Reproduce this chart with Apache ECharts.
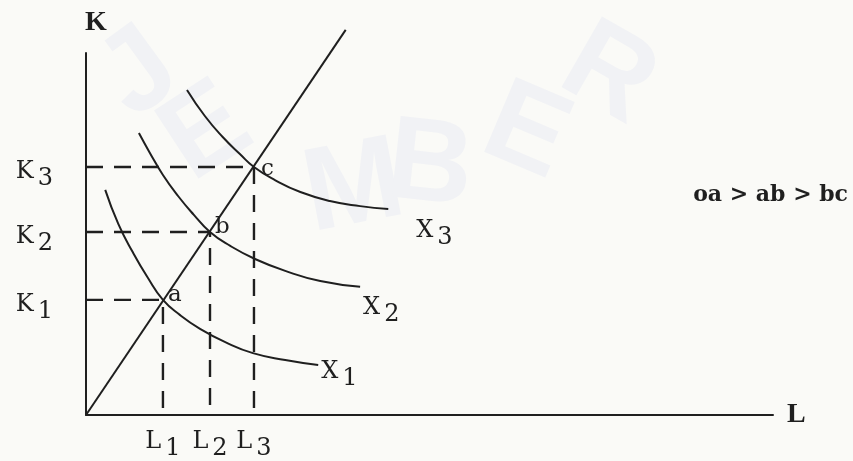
<!DOCTYPE html>
<html>
<head>
<meta charset="utf-8">
<script src="https://cdn.jsdelivr.net/npm/echarts@6/dist/echarts.min.js"></script>
<style>
  html, body { margin: 0; padding: 0; background: #fafaf7; }
  #chart { width: 853px; height: 461px; }
</style>
</head>
<body>
<div id="chart"></div>
<script>
// Input levels at the three equilibrium points a, b, c
const laborLevels = [11.2, 18.05, 24.45];    // L1, L2, L3
const capitalLevels = [31.8, 50.55, 68.5];   // K1, K2, K3
const pointNames = ['a', 'b', 'c'];
const laborTicks = ['1', '2', '3'];
const capitalTicks = ['1', '2', '3'];

// Expansion path through the origin
const expansionPath = [[0, 0], [37.8, 106.4]];

// Isoquants X1, X2, X3
const isoquantX1 = [[2.8, 62.2], [4.7, 52.8], [6.8, 45.0], [9.0, 37.9], [11.2, 31.8],
                    [13.7, 27.6], [16.6, 23.8], [20.2, 20.2], [24.3, 17.1], [29.0, 15.2],
                    [33.8, 13.8]];
const isoquantX2 = [[7.7, 77.9], [9.3, 72.4], [11.2, 66.3], [13.4, 60.5], [15.7, 55.3],
                    [18.05, 50.55], [21.0, 46.7], [24.6, 43.1], [29.0, 39.8], [34.1, 37.0],
                    [39.9, 35.4]];
const isoquantX3 = [[14.7, 89.8], [17.3, 82.6], [19.9, 76.8], [22.4, 72.1], [24.45, 68.5],
                    [27.5, 64.9], [31.2, 61.6], [35.5, 59.1], [39.9, 57.7], [44.0, 56.9]];
const isoquantNames = ['1', '2', '3'];

const INK = '#1f1f1f';
const TYPE = '"DejaVu Serif", "Liberation Serif", serif';
const SERIF = '"Liberation Serif", "DejaVu Serif", serif';

// letter plus lowered subscript
const subRich = {
  m: { fontFamily: TYPE, fontSize: 24, lineHeight: 24, color: INK, verticalAlign: 'top' },
  s: { fontFamily: TYPE, fontSize: 24, lineHeight: 24, color: INK, padding: [14, 0, 0, 4] }
};

const chart = echarts.init(document.getElementById('chart'), null, { renderer: 'canvas' });

const guideSeries = laborLevels.map((L, i) => ({
  type: 'line',
  data: [[0, capitalLevels[i]], [L, capitalLevels[i]], [L, 0]],
  symbol: 'none',
  lineStyle: { color: INK, width: 2.4, type: [17, 11] },
  z: 2
}));

function isoquant(data, idx, offset) {
  return {
    type: 'line',
    data: data,
    smooth: 0.5,
    symbol: 'none',
    lineStyle: { color: INK, width: 2 },
    endLabel: {
      show: true,
      formatter: () => '{m|X}{s|' + isoquantNames[idx] + '}',
      rich: subRich,
      offset: offset,
      distance: 3
    },
    z: 3
  };
}

// faint arc of watermark letters behind the plot
const wmLetters = ['J', 'E', 'M', 'B', 'E', 'R'];
const wmPos = [[140, 75], [207, 134], [354, 190], [430, 168], [526, 134], [608, 76]];
const wmRot = [0.63, 0.58, 0.19, -0.11, -0.40, -0.52];
const watermark = wmLetters.map((ch, i) => ({
  type: 'text',
  x: wmPos[i][0], y: wmPos[i][1],
  rotation: wmRot[i],
  silent: true,
  z: -10,
  style: {
    text: ch, fill: '#f1f2f5',
    font: 'bold 118px "Liberation Sans", sans-serif',
    align: 'center', verticalAlign: 'middle'
  }
}));

chart.setOption({
  backgroundColor: '#fafaf7',
  animation: false,
  grid: { left: 86, right: 80, top: 53, bottom: 46, containLabel: false },
  graphic: watermark.concat([{
    type: 'text',
    x: 848, y: 195,
    z: 10,
    style: {
      text: 'oa > ab > bc',
      font: 'bold 22px ' + TYPE,
      fill: INK,
      align: 'right', verticalAlign: 'middle'
    }
  }]),
  xAxis: {
    type: 'value', min: 0, max: 100,
    name: 'L', nameLocation: 'end', nameGap: 14,
    nameTextStyle: { fontFamily: SERIF, fontWeight: 'bold', fontSize: 28, color: INK, verticalAlign: 'middle' },
    axisLine: { show: true, lineStyle: { color: INK, width: 2 } },
    axisTick: { show: false },
    splitLine: { show: false },
    axisLabel: {
      customValues: laborLevels,
      margin: 15,
      formatter: (v) => '{m|L}{s|' + laborTicks[laborLevels.indexOf(v)] + '}',
      rich: subRich
    }
  },
  yAxis: {
    type: 'value', min: 0, max: 100,
    name: 'K', nameLocation: 'end', nameGap: 16,
    nameTextStyle: { fontFamily: SERIF, fontWeight: 'bold', fontSize: 28, color: INK, padding: [0, 0, 0, 20] },
    axisLine: { show: true, lineStyle: { color: INK, width: 2 } },
    axisTick: { show: false },
    splitLine: { show: false },
    axisLabel: {
      customValues: capitalLevels,
      margin: 33,
      padding: [10, 0, 0, 0],
      formatter: (v) => '{m|K}{s|' + capitalTicks[capitalLevels.indexOf(v)] + '}',
      rich: subRich
    }
  },
  series: guideSeries.concat([
    {
      type: 'line',
      data: expansionPath,
      symbol: 'none',
      clip: false,
      lineStyle: { color: INK, width: 2 },
      z: 3
    },
    isoquant(isoquantX1, 0, [0, 7]),
    isoquant(isoquantX2, 1, [0, 21]),
    isoquant(isoquantX3, 2, [25, 22]),
    {
      type: 'scatter',
      data: laborLevels.map((L, i) => ({
        value: [L, capitalLevels[i]],
        label: { offset: i === 2 ? [2, 2] : [0, -5] }
      })),
      symbolSize: 0.1,
      itemStyle: { color: INK, opacity: 1 },
      label: {
        show: true, position: 'right', distance: 5,
        formatter: (p) => pointNames[p.dataIndex],
        fontFamily: TYPE, fontSize: 23, color: INK
      },
      z: 4
    }
  ])
});
</script>
</body>
</html>
